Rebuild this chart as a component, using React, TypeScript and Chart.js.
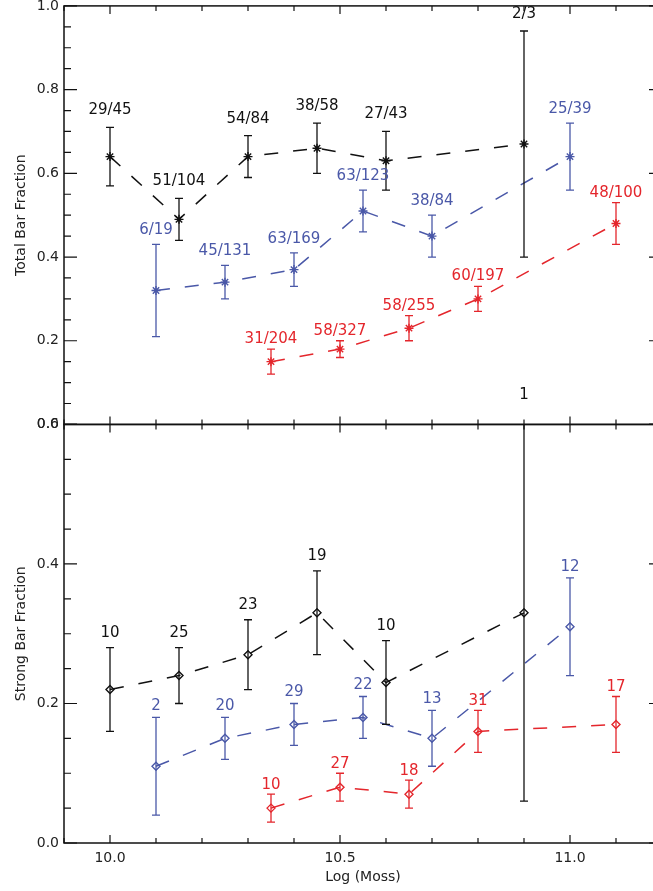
import React, { useEffect, useRef } from "react";
import { Chart, registerables } from "chart.js";

Chart.register(...registerables);

// ---- x positions (Log Mass bins) ----
const xBlack = [10.0, 10.15, 10.3, 10.45, 10.6, 10.9];
const xBlue = [10.1, 10.25, 10.4, 10.55, 10.7, 11.0];
const xRed = [10.35, 10.5, 10.65, 10.8, 11.1];

// ---- Top panel: Total Bar Fraction ----
const totalBlack = [0.64, 0.49, 0.64, 0.66, 0.63, 0.67];
const totalBlackLo = [0.57, 0.44, 0.59, 0.6, 0.56, 0.4];
const totalBlackHi = [0.71, 0.54, 0.69, 0.72, 0.7, 0.94];
const totalBlackLabels = ["29/45", "51/104", "54/84", "38/58", "27/43", "2/3"];

const totalBlue = [0.32, 0.34, 0.37, 0.51, 0.45, 0.64];
const totalBlueLo = [0.21, 0.3, 0.33, 0.46, 0.4, 0.56];
const totalBlueHi = [0.43, 0.38, 0.41, 0.56, 0.5, 0.72];
const totalBlueLabels = ["6/19", "45/131", "63/169", "63/123", "38/84", "25/39"];

const totalRed = [0.15, 0.18, 0.23, 0.3, 0.48];
const totalRedLo = [0.12, 0.16, 0.2, 0.27, 0.43];
const totalRedHi = [0.18, 0.2, 0.26, 0.33, 0.53];
const totalRedLabels = ["31/204", "58/327", "58/255", "60/197", "48/100"];

// ---- Bottom panel: Strong Bar Fraction ----
const strongBlack = [0.22, 0.24, 0.27, 0.33, 0.23, 0.33];
const strongBlackLo = [0.16, 0.2, 0.22, 0.27, 0.17, 0.06];
const strongBlackHi = [0.28, 0.28, 0.32, 0.39, 0.29, 0.62];
const strongBlackLabels = ["10", "25", "23", "19", "10", "1"];

const strongBlue = [0.11, 0.15, 0.17, 0.18, 0.15, 0.31];
const strongBlueLo = [0.04, 0.12, 0.14, 0.15, 0.11, 0.24];
const strongBlueHi = [0.18, 0.18, 0.2, 0.21, 0.19, 0.38];
const strongBlueLabels = ["2", "20", "29", "22", "13", "12"];

const strongRed = [0.05, 0.08, 0.07, 0.16, 0.17];
const strongRedLo = [0.03, 0.06, 0.05, 0.13, 0.13];
const strongRedHi = [0.07, 0.1, 0.09, 0.19, 0.21];
const strongRedLabels = ["10", "27", "18", "31", "17"];

// ---- axis tick labels ----
const xLabelValues = [10.0, 10.5, 11.0];
const yLabelStep = 0.2;

const BLACK = "#111111";
const BLUE = "#4a58a8";
const RED = "#e4262c";
const FONT = '"DejaVu Sans", sans-serif';

type Series = {
  xs: number[];
  ys: number[];
  lo: number[];
  hi: number[];
  labels: string[];
  color: string;
  axis: string;
  marker: string;
  gap: number;
};

const series: Series[] = [
  { xs: xBlack, ys: totalBlack, lo: totalBlackLo, hi: totalBlackHi, labels: totalBlackLabels, color: BLACK, axis: "yTop", marker: "star", gap: 17 },
  { xs: xBlue, ys: totalBlue, lo: totalBlueLo, hi: totalBlueHi, labels: totalBlueLabels, color: BLUE, axis: "yTop", marker: "star", gap: 14 },
  { xs: xRed, ys: totalRed, lo: totalRedLo, hi: totalRedHi, labels: totalRedLabels, color: RED, axis: "yTop", marker: "star", gap: 10 },
  { xs: xBlack, ys: strongBlack, lo: strongBlackLo, hi: strongBlackHi, labels: strongBlackLabels, color: BLACK, axis: "yBot", marker: "rectRot", gap: 15 },
  { xs: xBlue, ys: strongBlue, lo: strongBlueLo, hi: strongBlueHi, labels: strongBlueLabels, color: BLUE, axis: "yBot", marker: "rectRot", gap: 11 },
  { xs: xRed, ys: strongRed, lo: strongRedLo, hi: strongRedHi, labels: strongRedLabels, color: RED, axis: "yBot", marker: "rectRot", gap: 9 },
];

const errorBarPlugin = {
  id: "errorBars",
  afterDatasetsDraw(chart: any) {
    const ctx = chart.ctx;
    const xs = chart.scales.x;
    const { left, right } = chart.chartArea;
    series.forEach((s) => {
      const ys = chart.scales[s.axis];
      ctx.save();
      ctx.beginPath();
      ctx.rect(left, ys.top, right - left, ys.bottom - ys.top);
      ctx.clip();
      ctx.strokeStyle = s.color;
      ctx.lineWidth = 1.3;
      s.xs.forEach((xv, i) => {
        const px = xs.getPixelForValue(xv);
        const pl = ys.getPixelForValue(s.lo[i]);
        const ph = ys.getPixelForValue(s.hi[i]);
        ctx.beginPath();
        ctx.moveTo(px, pl);
        ctx.lineTo(px, ph);
        ctx.moveTo(px - 4, pl);
        ctx.lineTo(px + 4, pl);
        ctx.moveTo(px - 4, ph);
        ctx.lineTo(px + 4, ph);
        ctx.stroke();
      });
      ctx.restore();
      ctx.save();
      ctx.fillStyle = s.color;
      ctx.font = "15px " + FONT;
      ctx.textAlign = "center";
      ctx.textBaseline = "middle";
      s.xs.forEach((xv, i) => {
        ctx.fillText(s.labels[i], xs.getPixelForValue(xv), ys.getPixelForValue(s.hi[i]) - s.gap);
      });
      ctx.restore();
    });
  },
};

const framePlugin = {
  id: "frame",
  afterDraw(chart: any) {
    const ctx = chart.ctx;
    const xs = chart.scales.x;
    const { left, right } = chart.chartArea;
    ctx.save();
    ctx.strokeStyle = BLACK;
    ["yTop", "yBot"].forEach((id) => {
      const ys = chart.scales[id];
      ctx.lineWidth = 1.5;
      ctx.strokeRect(left, ys.top, right - left, ys.bottom - ys.top);
      ctx.beginPath();
      xs.ticks.forEach((t: any) => {
        const px = xs.getPixelForValue(t.value);
        const len = t.label ? 8 : 5;
        ctx.moveTo(px, ys.top);
        ctx.lineTo(px, ys.top + len);
        ctx.moveTo(px, ys.bottom);
        ctx.lineTo(px, ys.bottom - len);
      });
      ys.ticks.forEach((t: any) => {
        const py = ys.getPixelForValue(t.value);
        const len = t.label ? 13 : 7;
        ctx.moveTo(left, py);
        ctx.lineTo(left + len, py);
        ctx.moveTo(right, py);
        ctx.lineTo(right - len, py);
      });
      ctx.lineWidth = 1.2;
      ctx.stroke();
    });
    ctx.restore();
  },
};

const yLabel = (v: number) =>
  Math.abs(v / yLabelStep - Math.round(v / yLabelStep)) < 1e-6 ? v.toFixed(1) : "";

const xLabel = (v: number) =>
  xLabelValues.some((m) => Math.abs(m - v) < 1e-6) ? v.toFixed(1) : "";

function yScale(min: number, max: number, title: string) {
  return {
    type: "linear",
    position: "left",
    stack: "panels",
    stackWeight: 1,
    min,
    max,
    grid: { display: false, drawTicks: false },
    border: { display: false },
    ticks: {
      stepSize: 0.05,
      autoSkip: false,
      padding: 5,
      color: "#222",
      font: { family: FONT, size: 14 },
      callback: (v: any) => yLabel(Number(v)),
    },
    title: {
      display: true,
      text: title,
      color: "#222",
      font: { family: FONT, size: 14 },
      padding: { top: 12.6, bottom: 0 },
    },
    afterFit(scale: any) {
      scale.width = 64;
      scale.paddingTop = 0;
      scale.paddingBottom = 0;
    },
  };
}

export default function App() {
  const ref = useRef<HTMLCanvasElement | null>(null);

  useEffect(() => {
    if (!ref.current) return;
    const datasets = series.map((s) => ({
      data: s.xs.map((x, i) => ({ x, y: s.ys[i] })),
      yAxisID: s.axis,
      borderColor: s.color,
      borderWidth: 1.5,
      borderDash: [14, 15],
      pointStyle: s.marker,
      pointRadius: s.marker === "star" ? 4.5 : 4,
      pointBorderColor: s.color,
      pointBorderWidth: 1.4,
      pointBackgroundColor: "rgba(0,0,0,0)",
      tension: 0,
      fill: false,
    }));

    const chart = new Chart(ref.current, {
      type: "line",
      data: { datasets },
      options: {
        animation: false,
        responsive: false,
        devicePixelRatio: 1,
        layout: { padding: { top: 5, right: 8, left: 0, bottom: 0 } },
        plugins: { legend: { display: false }, tooltip: { enabled: false } },
        scales: {
          x: {
            type: "linear",
            position: "bottom",
            min: 9.9,
            max: 11.2,
            grid: { display: false, drawTicks: false },
            border: { display: false },
            ticks: {
              stepSize: 0.1,
              autoSkip: false,
              maxRotation: 0,
              padding: 7,
              color: "#222",
              font: { family: FONT, size: 14 },
              callback: (v: any) => xLabel(Number(v)),
            },
            title: {
              display: true,
              text: "Log (Moss)",
              color: "#222",
              font: { family: FONT, size: 14 },
              padding: { top: 0, bottom: 5.6 },
            },
            afterFit(scale: any) {
              scale.height = 48;
              scale.paddingLeft = 0;
              scale.paddingRight = 0;
            },
          },
          yBot: yScale(0, 0.6, "Strong Bar Fraction"),
          yTop: yScale(0, 1.0, "Total Bar Fraction"),
        } as any,
      },
      plugins: [errorBarPlugin, framePlugin],
    } as any);
    return () => chart.destroy();
  }, []);

  return (
    <div
      style={{
        position: "absolute",
        left: 0,
        top: 0,
        width: 653,
        height: 891,
        overflow: "hidden",
        background: "#fff",
      }}
    >
      <canvas ref={ref} width={670} height={891} style={{ width: 670, height: 891, display: "block" }} />
    </div>
  );
}
